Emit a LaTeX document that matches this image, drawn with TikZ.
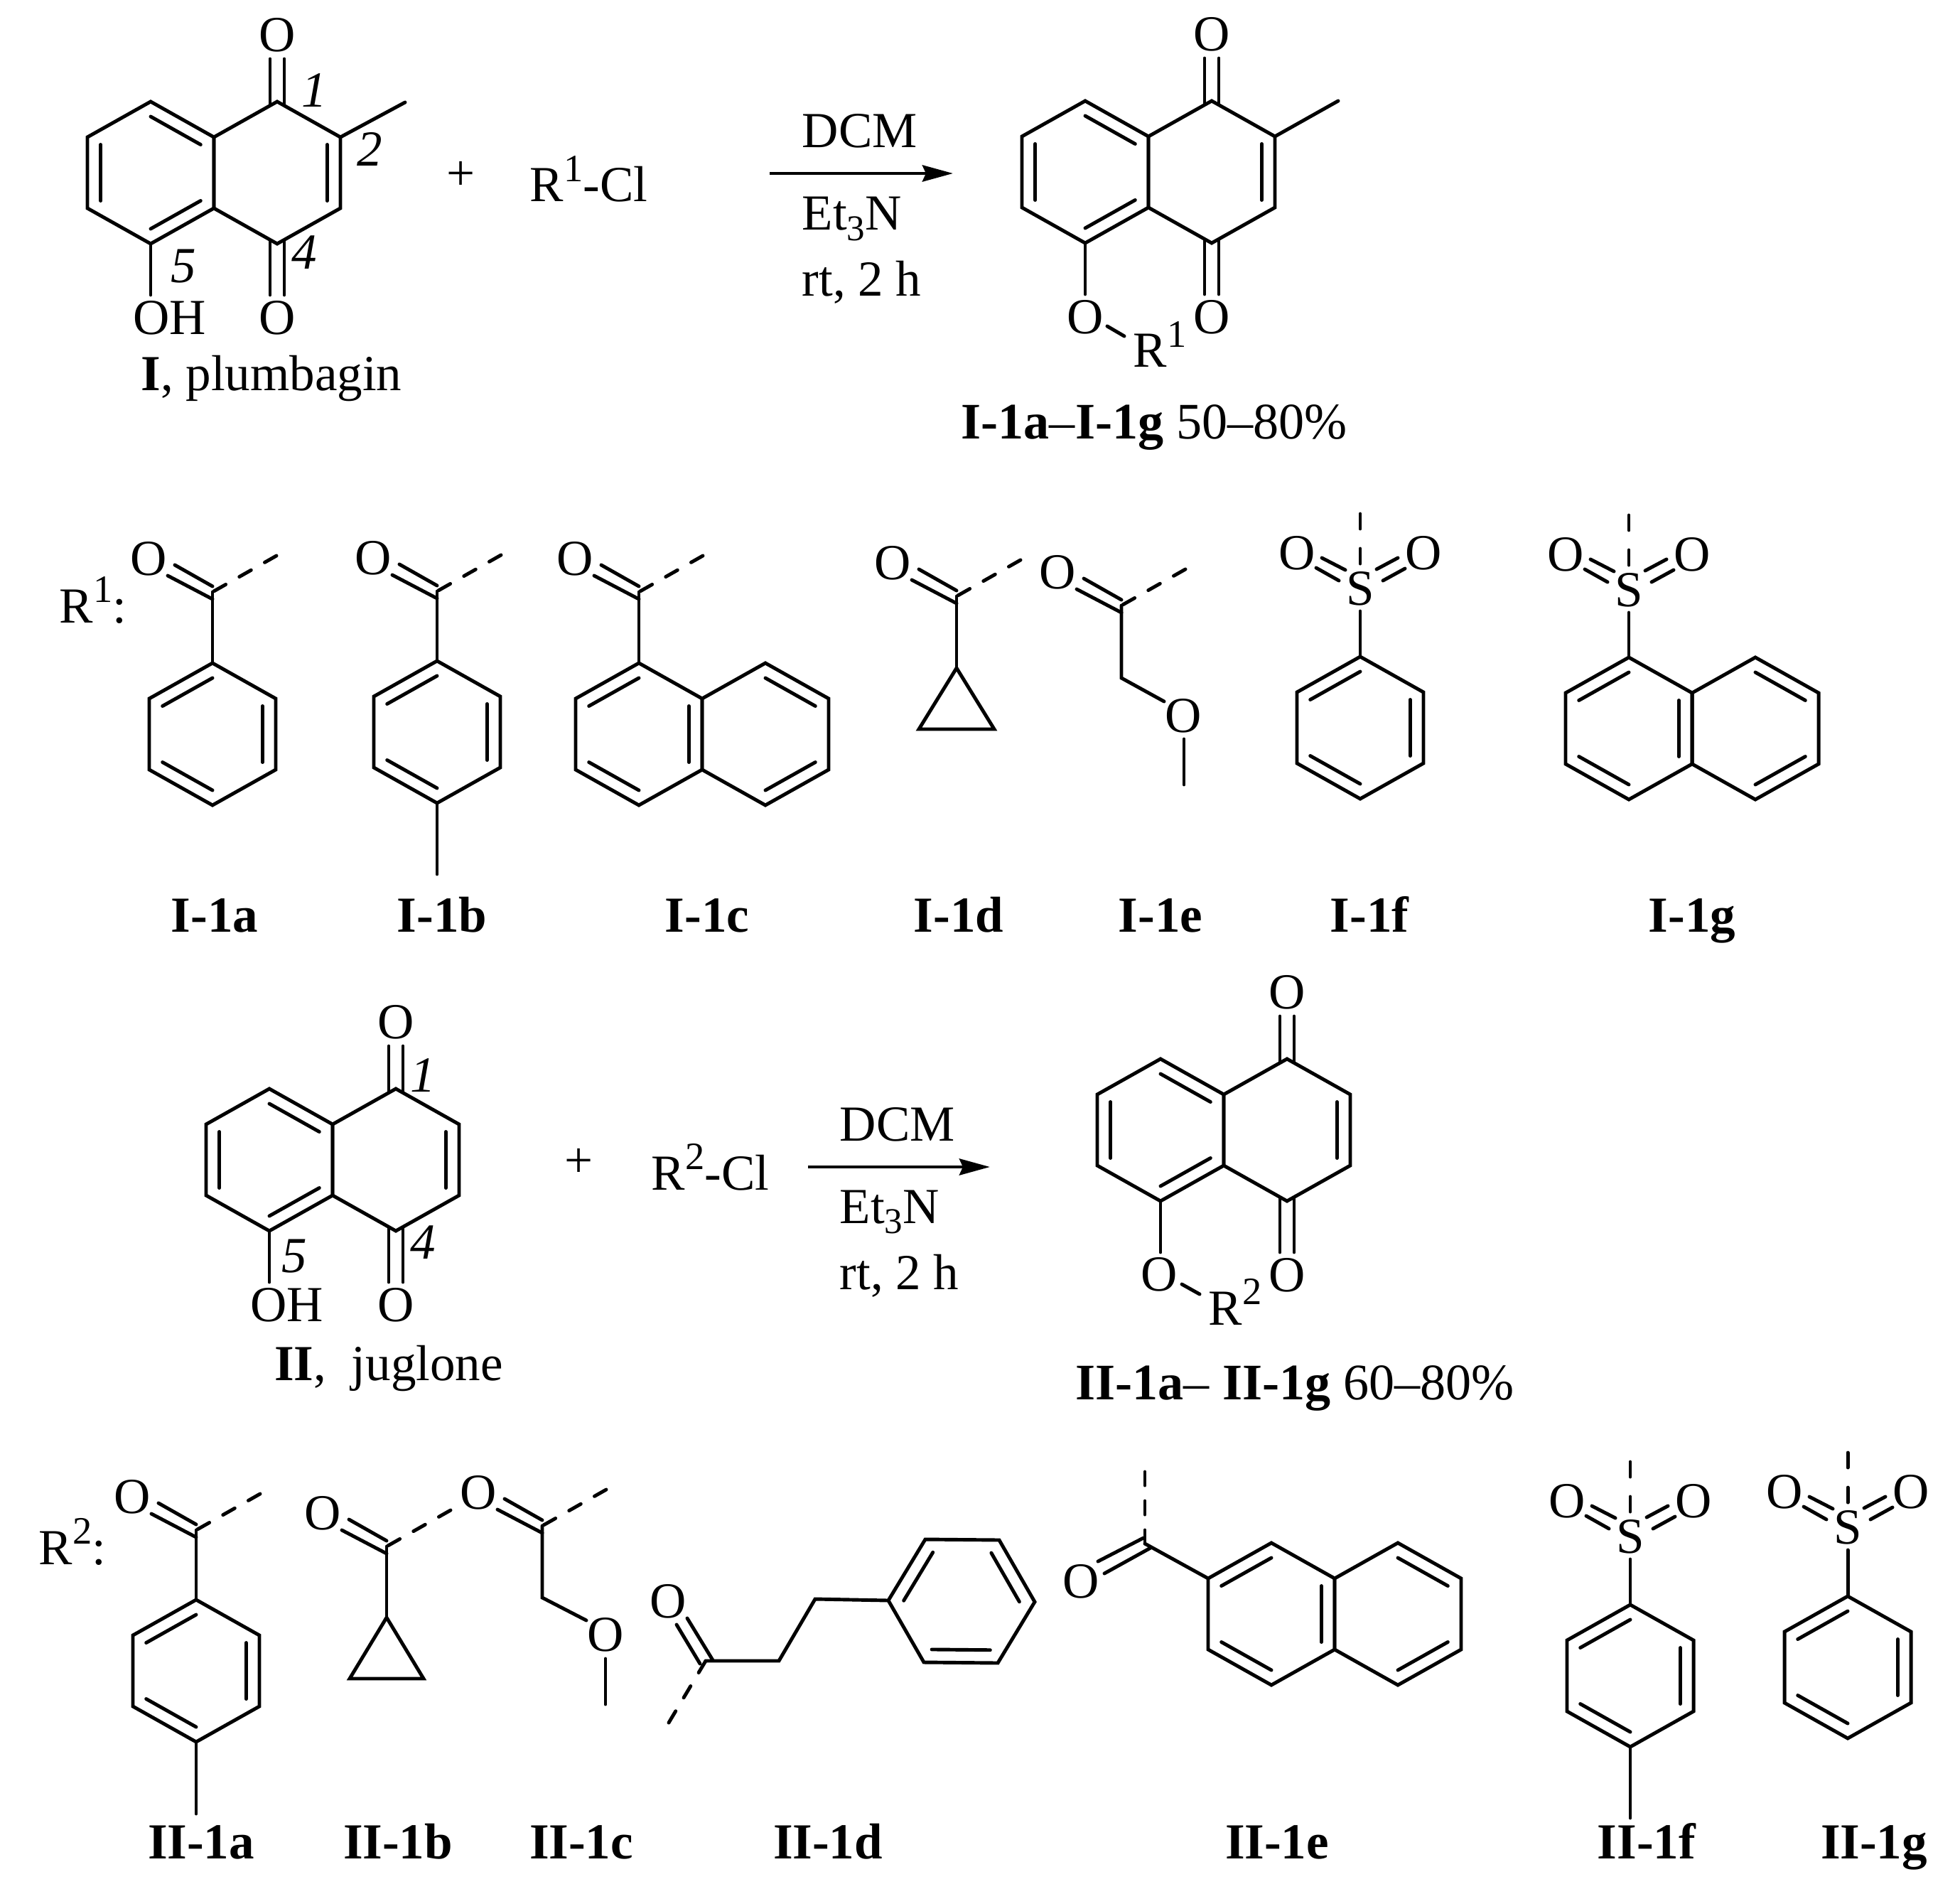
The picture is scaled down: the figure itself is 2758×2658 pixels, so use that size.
\documentclass[tikz,border=0pt]{standalone}
\usepackage{fontspec}
\setmainfont{Liberation Serif}
\usetikzlibrary{calc,arrows.meta}

\newcommand{\txtfont}{\fontsize{20.2}{24}\selectfont}
\newcommand{\upnum}[1]{\raisebox{8pt}{\fontsize{15.5}{15.5}\selectfont #1}}
\newcommand{\dnnum}[1]{\raisebox{-4.2pt}{\fontsize{14.5}{14.5}\selectfont #1}}

\tikzset{
  bond/.style={line width=1.4pt, line cap=round},
  dashbond/.style={bond, dash pattern=on 0.19cm off 0.22cm},
  sulfbond/.style={bond, dash pattern=on 0.21cm off 0.28cm},
  rxnarrow/.style={line width=1.4pt, -{Stealth[length=0.43cm,width=0.23cm,inset=0.05cm]}},
  atom/.style={font=\txtfont, inner sep=0pt},
  txt/.style={font=\txtfont, inner sep=0pt, anchor=base west},
  num/.style={font=\txtfont\itshape, inner sep=0pt},
  lab/.style={font=\txtfont\bfseries, inner sep=0pt, anchor=base},
  yieldlab/.style={lab, font=\fontsize{20.5}{24}\selectfont\bfseries},
}

% anillo: 1 arriba, sentido horario
\newcommand{\hexring}[3]{
  \begin{scope}[shift={(#2,#3)}]
    \coordinate (#1c) at (0,0);
    \coordinate (#11) at (0,-100);
    \coordinate (#12) at (89,-50);
    \coordinate (#13) at (89,50);
    \coordinate (#14) at (0,100);
    \coordinate (#15) at (-89,50);
    \coordinate (#16) at (-89,-50);
    \draw[bond] (#11) -- (#12) -- (#13) -- (#14) -- (#15) -- (#16) -- cycle;
  \end{scope}
}
\newcommand{\inbond}[3]{
  \draw[bond] ($(#1c)!0.79!(#1#2)$) -- ($(#1c)!0.79!(#1#3)$);
}
\newcommand{\benz}[3]{
  \hexring{#1}{#2}{#3}
  \inbond{#1}{6}{1}
  \inbond{#1}{2}{3}
  \inbond{#1}{4}{5}
}
\newcommand{\naphright}[3]{
  \hexring{#1}{#2}{#3}
  \inbond{#1}{1}{2}
  \inbond{#1}{3}{4}
}
% quinona: anillo izquierdo en (cx,cy)
\newcommand{\quinone}[3]{
  \hexring{#1l}{#2}{#3}
  \inbond{#1l}{1}{2}
  \inbond{#1l}{3}{4}
  \inbond{#1l}{5}{6}
  \begin{scope}[shift={(#2,#3)}]
    \hexring{#1r}{178}{0}
    \inbond{#1r}{2}{3}
    \node[atom] (#1ot) at (178,-194) {O};
    \node[atom] (#1ob) at (178,204) {O};
    \draw[bond] (168,-160) -- (168,-95);
    \draw[bond] (188,-160) -- (188,-95);
    \draw[bond] (168,95) -- (168,172);
    \draw[bond] (188,95) -- (188,172);
    \coordinate (#1x) at (0,172);
    \draw[bond] (#1l4) -- (#1x);
  \end{scope}
}
\newcommand{\carbonyl}[3]{
  \begin{scope}[shift={(#2,#3)}]
    \coordinate (#1c) at (0,0);
    \coordinate (#1m) at (90,-51);
    \node[atom] (#1o) at (-90,-47) {O};
    \draw[bond] (-53,-38) -- (0,-8);
    \draw[bond] (-63,-23) -- (0,10);
    \draw[dashbond] (#1m) -- (#1c);
  \end{scope}
}
\newcommand{\sulfonyl}[3]{
  \begin{scope}[shift={(#2,#3)}]
    \node[atom] (#1s) at (0,0) {S};
    \node[atom] (#1ol) at (-89,-50) {O};
    \node[atom] (#1or) at (89,-50) {O};
    \coordinate (#1t) at (0,-105);
    \coordinate (#1u) at (0,-33);
    \coordinate (#1d) at (0,32);
    \draw[sulfbond] (#1t) -- (#1u);
    \draw[bond] (-54,-43) -- (-21,-26);
    \draw[bond] (-62,-29) -- (-30,-11);
    \draw[bond] (23,-27) -- (53,-43);
    \draw[bond] (32,-11) -- (63,-28);
  \end{scope}
}

\begin{document}
\begin{tikzpicture}[x=0.01cm, y=-0.01cm]
    \useasboundingbox (0,0) rectangle (2758,2658);

    % Plumbagina
    \quinone{p}{212}{243}
    \coordinate (pme) at (570,144);
    \draw[bond] (pr2) -- (pme);
    \node[atom] (poh) at (239,447) {OH};
    \node[num] (pn1) at (442,127) {1};
    \node[num] (pn2) at (520,210) {2};
    \node[num] (pn4) at (428,355) {4};
    \node[num] (pn5) at (258,375) {5};
    \node[txt, anchor=base] (pname) at (382,550) {\textbf{I}, plumbagin};
    \node[atom] (pplus) at (649,247) {+};
    \node[txt] (rcla) at (745,284) {R\upnum{1}-Cl};

    % Flecha I
    \coordinate (arra) at (1083,244);
    \coordinate (arrb) at (1341,244);
    \draw[rxnarrow] (arra) -- (arrb);
    \node[txt] (dcma) at (1128,208) {DCM};
    \node[txt] (etna) at (1128,324) {Et\dnnum{3}N};
    \node[txt] (rta) at (1128,417) {rt, 2 h};

    % Producto I
    \quinone{q}{1527}{242}
    \coordinate (qme) at (1883,142);
    \draw[bond] (qr2) -- (qme);
    \node[atom] (qo) at (1527,446) {O};
    \coordinate (qa) at (1558,459);
    \coordinate (qb) at (1582,473);
    \draw[bond] (qa) -- (qb);
    \node[txt] (qr) at (1594,517) {R\upnum{1}};
    \node[yieldlab] (qname) at (1624,618) {I-1a\textmd{–}I-1g \textmd{50–80\%}};

    % R1
    \node[txt] (rone) at (83,876) {R\upnum{1}:};

    % I-1a
    \carbonyl{a}{299}{833}
    \benz{ar}{299}{1033}
    \draw[bond] (ac) -- (ar1);
    \node[lab] (la) at (302,1311) {I-1a};

    % I-1b
    \carbonyl{b}{615}{832}
    \benz{br}{615}{1030}
    \coordinate (bme) at (615,1230);
    \draw[bond] (bc) -- (br1);
    \draw[bond] (br4) -- (bme);
    \node[lab] (lb) at (622,1311) {I-1b};

    % I-1c
    \carbonyl{c}{899}{833}
    \benz{cr}{899}{1033}
    \naphright{cs}{1077}{1033}
    \draw[bond] (cc) -- (cr1);
    \node[lab] (lc) at (995,1311) {I-1c};

    % I-1d
    \carbonyl{d}{1346}{839}
    \coordinate (dt) at (1346,940);
    \coordinate (dl) at (1293,1026);
    \coordinate (dr) at (1399,1026);
    \draw[bond] (dc) -- (dt);
    \draw[bond] (dt) -- (dl) -- (dr) -- cycle;
    \node[lab] (ld) at (1349,1311) {I-1d};

    % I-1e
    \carbonyl{e}{1578}{852}
    \coordinate (ech) at (1578,954);
    \coordinate (eoa) at (1638,987);
    \coordinate (eob) at (1666,1040);
    \coordinate (eme) at (1666,1104);
    \node[atom] (eoc) at (1665,1007) {O};
    \draw[bond] (ec) -- (ech) -- (eoa);
    \draw[bond] (eob) -- (eme);
    \node[lab] (le) at (1633,1311) {I-1e};

    % I-1f
    \sulfonyl{f}{1914}{828}
    \benz{fr}{1914}{1024}
    \draw[bond] (fd) -- (fr1);
    \node[lab] (lf) at (1927,1311) {I-1f};

    % I-1g
    \sulfonyl{g}{2292}{830}
    \benz{gr}{2292}{1025}
    \naphright{gs}{2470}{1025}
    \draw[bond] (gd) -- (gr1);
    \node[lab] (lg) at (2381,1311) {I-1g};

    % Juglona
    \quinone{j}{379}{1632}
    \node[atom] (joh) at (404,1836) {OH};
    \node[num] (jn1) at (595,1513) {1};
    \node[num] (jn4) at (595,1748) {4};
    \node[num] (jn5) at (414,1768) {5};
    \node[txt, anchor=base] (jname) at (547,1942) {\textbf{II},\ \ juglone};
    \node[atom] (jplus) at (815,1636) {+};
    \node[txt] (rclb) at (916,1674) {R\upnum{2}-Cl};

    % Flecha II
    \coordinate (arrc) at (1137,1642);
    \coordinate (arrd) at (1393,1642);
    \draw[rxnarrow] (arrc) -- (arrd);
    \node[txt] (dcmb) at (1181,1605) {DCM};
    \node[txt] (etnb) at (1181,1721) {Et\dnnum{3}N};
    \node[txt] (rtb) at (1181,1814) {rt, 2 h};

    % Producto II
    \quinone{k}{1633}{1590}
    \node[atom] (ko) at (1631,1793) {O};
    \coordinate (ka) at (1663,1807);
    \coordinate (kb) at (1688,1821);
    \draw[bond] (ka) -- (kb);
    \node[txt] (kr) at (1700,1864) {R\upnum{2}};
    \node[yieldlab] (kname) at (1822,1969) {II-1a\textmd{–} II-1g \textmd{60–80\%}};

    % R2
    \node[txt] (rtwo) at (54,2201) {R\upnum{2}:};

    % II-1a
    \carbonyl{m}{276}{2153}
    \benz{mr}{276}{2351}
    \coordinate (mme) at (276,2552);
    \draw[bond] (mc) -- (mr1);
    \draw[bond] (mr4) -- (mme);
    \node[lab] (lm) at (283,2615) {II-1a};

    % II-1b
    \carbonyl{n}{544}{2176}
    \coordinate (nt) at (544,2276);
    \coordinate (nl) at (492,2362);
    \coordinate (nr) at (596,2362);
    \draw[bond] (nc) -- (nt);
    \draw[bond] (nt) -- (nl) -- (nr) -- cycle;
    \node[lab] (ln) at (560,2615) {II-1b};

    % II-1c
    \carbonyl{o}{763}{2147}
    \coordinate (och) at (763,2248);
    \coordinate (ooa) at (825,2280);
    \coordinate (oob) at (852,2334);
    \coordinate (ome) at (852,2398);
    \node[atom] (ooc) at (852,2300) {O};
    \draw[bond] (oc) -- (och) -- (ooa);
    \draw[bond] (oob) -- (ome);
    \node[lab] (lo) at (818,2615) {II-1c};

    % II-1d
    \coordinate (sc) at (993,2337);
    \coordinate (sm) at (941,2424);
    \coordinate (sa) at (1096,2337);
    \coordinate (sb) at (1147,2250);
    \node[atom] (so) at (940,2253) {O};
    \draw[bond] (967,2277) -- (1003,2336);
    \draw[bond] (952,2286) -- (985,2341);
    \draw[dashbond] (sm) -- (sc);
    \coordinate (sr1) at (1302,2166);
    \coordinate (sr2) at (1406,2167);
    \coordinate (sr3) at (1456,2254);
    \coordinate (sr4) at (1404,2340);
    \coordinate (sr5) at (1300,2339);
    \coordinate (sr6) at (1250,2252);
    \coordinate (src) at (1353,2253);
    \draw[bond] (sc) -- (sa) -- (sb) -- (sr6);
    \draw[bond] (sr1) -- (sr2) -- (sr3) -- (sr4) -- (sr5) -- (sr6) -- cycle;
    \inbond{sr}{6}{1}
    \inbond{sr}{2}{3}
    \inbond{sr}{4}{5}
    \node[lab] (ls) at (1165,2615) {II-1d};

    % II-1e
    \coordinate (tc) at (1611,2172);
    \coordinate (tm) at (1611,2071);
    \node[atom] (to) at (1521,2225) {O};
    \draw[bond] (1545,2197) -- (1609,2164);
    \draw[bond] (1554,2214) -- (1619,2178);
    \draw[dashbond] (tm) -- (tc);
    \benz{tr}{1789}{2271}
    \naphright{ts}{1967}{2271}
    \draw[bond] (tc) -- (tr6);
    \node[lab] (lt) at (1797,2615) {II-1e};

    % II-1f
    \sulfonyl{u}{2294}{2162}
    \benz{ur}{2294}{2358}
    \coordinate (ume) at (2294,2558);
    \draw[bond] (ud) -- (ur1);
    \draw[bond] (ur4) -- (ume);
    \node[lab] (lu) at (2317,2615) {II-1f};

    % II-1g
    \sulfonyl{v}{2600}{2149}
    \benz{vr}{2600}{2346}
    \draw[bond] (vd) -- (vr1);
    \node[lab] (lv) at (2637,2615) {II-1g};
\end{tikzpicture}
\end{document}
